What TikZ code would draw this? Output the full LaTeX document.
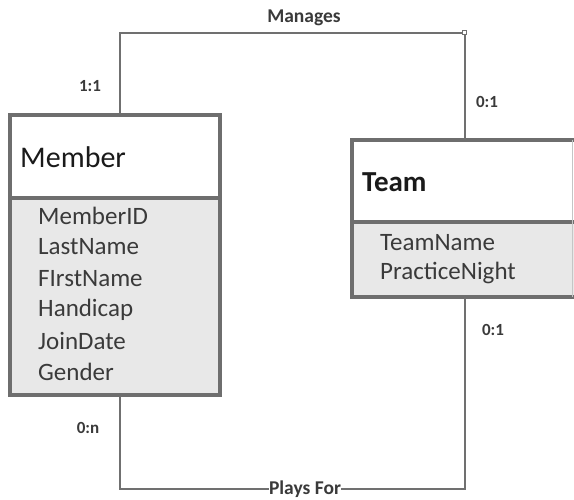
\documentclass[tikz,border=0pt]{standalone}
\usepackage{fontspec}
\setmainfont{Carlito}
\definecolor{boxline}{HTML}{6E6E6E}
\definecolor{connline}{HTML}{707070}
\definecolor{bodyfill}{HTML}{E8E8E8}
\definecolor{attrtext}{HTML}{3A3A3A}
\definecolor{titletext}{HTML}{1A1A1A}
\tikzset{
  hdrbox/.style={draw=boxline, line width=4pt, fill=white, anchor=north west, inner sep=0pt},
  bodybox/.style={draw=boxline, line width=4pt, fill=bodyfill, anchor=north west, inner sep=0pt},
  openbox/.style={draw=boxline, line width=4pt},
  titletxt/.style={anchor=west, inner sep=0pt, text=titletext},
  attr/.style={anchor=west, inner sep=0pt, text=attrtext, font=\fontsize{25}{28}\selectfont},
  card/.style={inner sep=0pt, text=attrtext, font=\bfseries\fontsize{17}{19}\selectfont},
  conn/.style={draw=connline, line width=2pt},
  rellabel/.style={inner sep=1pt, fill=white, text=attrtext, font=\bfseries\fontsize{19.5}{21}\selectfont}
}
\begin{document}
\begin{tikzpicture}[x=1pt,y=-1pt]
\useasboundingbox (0,0) rectangle (574,499);
% Member entity
\node[bodybox, minimum width=210pt, minimum height=197pt] (memberbody) at (8,196) {};
\node[hdrbox, minimum width=210pt, minimum height=83pt] (memberhead) at (8,113) {};
\node[titletxt, font=\fontsize{30}{33}\selectfont] (membertitle) at (20,157) {Member};
\node[attr] (a1) at (38,216) {MemberID};
\node[attr] (a2) at (38,247) {LastName};
\node[attr] (a3) at (38,279) {FIrstName};
\node[attr] (a4) at (38,310) {Handicap};
\node[attr] (a5) at (38,341) {JoinDate};
\node[attr] (a6) at (38,372) {Gender};
% Team entity (runs off the right edge)
\node[fill=bodyfill, anchor=north west, inner sep=0pt, minimum width=230pt, minimum height=75pt] (teambody) at (352,222) {};
\node[fill=white, anchor=north west, inner sep=0pt, minimum width=230pt, minimum height=82pt] (teamhead) at (352,140) {};
\draw[openbox] (teamhead.north east) -- (teamhead.north west) -- (teambody.south west) -- (teambody.south east);
\draw[openbox] (teamhead.south west) -- (teamhead.south east);
\draw[draw=boxline!40, line width=1pt] (572.5,140) -- (572.5,297);
\node[titletxt, font=\bfseries\fontsize{29}{32}\selectfont] (teamtitle) at (362,182) {Team};
\node[attr] (t1) at (380,243) {TeamName};
\node[attr] (t2) at (380,273) {PracticeNight};
% Manages
\coordinate (mgcorner) at (465,33);
\draw[conn] ([xshift=5pt]memberhead.north) |- (mgcorner) -- (465,140);
\draw[draw=connline, line width=0.8pt, fill=white] ([shift={(-3,-3)}]mgcorner) rectangle ++(4,4);
\node[rellabel] (manages) at (304,18) {Manages};
% Plays For
\coordinate (pfcorner) at (465,489);
\draw[conn] ([xshift=5pt]memberbody.south) |- (pfcorner) -- (465,297);
\node[rellabel, inner xsep=0pt] (playsfor) at (305,489) {Plays For};
% cardinalities
\node[card] (c11) at (90,86) {1:1};
\node[card] (c01a) at (487,102) {0:1};
\node[card] (c0n) at (88,428) {0:n};
\node[card] (c01b) at (493,330) {0:1};
\end{tikzpicture}
\end{document}
